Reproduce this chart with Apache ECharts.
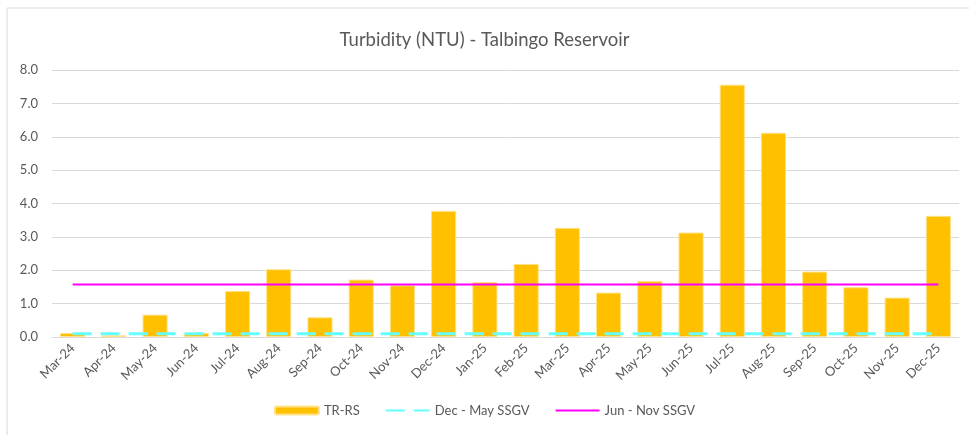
<!DOCTYPE html>
<html lang="en">
<head>
    <meta charset="UTF-8">
    <title>Turbidity (NTU) - Talbingo Reservoir</title>
    <script src="https://cdn.jsdelivr.net/npm/echarts@6/dist/echarts.min.js"></script>
    <style>
        html, body { margin: 0; padding: 0; background: #fff; }
        #chart { width: 969px; height: 435px; }
    </style>
</head>
<body>
<div id="chart"></div>
<script>
    // months on the x axis
    const months = ['Mar-24', 'Apr-24', 'May-24', 'Jun-24', 'Jul-24', 'Aug-24', 'Sep-24', 'Oct-24',
        'Nov-24', 'Dec-24', 'Jan-25', 'Feb-25', 'Mar-25', 'Apr-25', 'May-25', 'Jun-25',
        'Jul-25', 'Aug-25', 'Sep-25', 'Oct-25', 'Nov-25', 'Dec-25'];
    // TR-RS turbidity readings
    const trrs = [0.12, 0.05, 0.67, 0.12, 1.38, 2.03, 0.59, 1.72, 1.55, 3.78, 1.65, 2.19,
        3.27, 1.33, 1.68, 3.13, 7.56, 6.12, 1.96, 1.49, 1.18, 3.63];
    // guideline values
    const decMay = months.map(() => 0.1);
    const junNov = months.map(() => 1.57);
    const yTicks = [0, 1, 2, 3, 4, 5, 6, 7, 8];

    const grey = '#595959';
    const font = "Lato, 'Open Sans', sans-serif";

    let myChart = echarts.init(document.getElementById('chart'));
    let option = {
        animation: false,
        textStyle: {fontFamily: font},
        graphic: [{
            type: 'rect',
            shape: {x: 7, y: 8, width: 980, height: 440},
            style: {fill: 'none', stroke: '#d9d9d9', lineWidth: 1},
            silent: true
        }],
        title: {
            text: 'Turbidity (NTU) - Talbingo Reservoir',
            left: 'center',
            top: 26,
            textStyle: {color: grey, fontSize: 18.5, fontWeight: 'normal', fontFamily: font}
        },
        legend: {
            bottom: 13,
            left: 'center',
            itemWidth: 44,
            itemHeight: 8,
            itemGap: 25,
            textStyle: {color: grey, fontSize: 13, fontFamily: font},
            data: [
                {name: 'TR-RS'},
                {name: 'Dec - May SSGV', itemStyle: {opacity: 0}},
                {name: 'Jun - Nov SSGV', itemStyle: {opacity: 0}}
            ]
        },
        grid: {left: 52, right: 10, top: 70, bottom: 98, containLabel: false},
        xAxis: {
            type: 'category',
            data: months,
            axisTick: {show: false},
            axisLine: {lineStyle: {color: '#d9d9d9', width: 1}},
            axisLabel: {rotate: 45, color: grey, fontSize: 13, margin: 9, fontFamily: font}
        },
        yAxis: {
            type: 'value',
            min: yTicks[0],
            max: yTicks[yTicks.length - 1],
            interval: 1,
            axisLine: {show: false},
            axisTick: {show: false},
            splitLine: {lineStyle: {color: '#d9d9d9', width: 1}},
            axisLabel: {color: grey, fontSize: 13, margin: 14, fontFamily: font,
                formatter: v => v.toFixed(1)}
        },
        series: [{
            name: 'TR-RS',
            type: 'bar',
            data: trrs,
            barCategoryGap: '39%',
            itemStyle: {color: '#FFC000', borderColor: '#FFE28A', borderWidth: 1}
        }, {
            name: 'Dec - May SSGV',
            type: 'line',
            data: decMay,
            symbol: 'none',
            itemStyle: {color: '#66FFFF'},
            lineStyle: {color: '#66FFFF', width: 3, type: [19, 9]}
        }, {
            name: 'Jun - Nov SSGV',
            type: 'line',
            data: junNov,
            symbol: 'none',
            itemStyle: {color: '#FF00FF'},
            lineStyle: {color: '#FF00FF', width: 2}
        }]
    };
    myChart.setOption(option);
</script>
</body>
</html>
